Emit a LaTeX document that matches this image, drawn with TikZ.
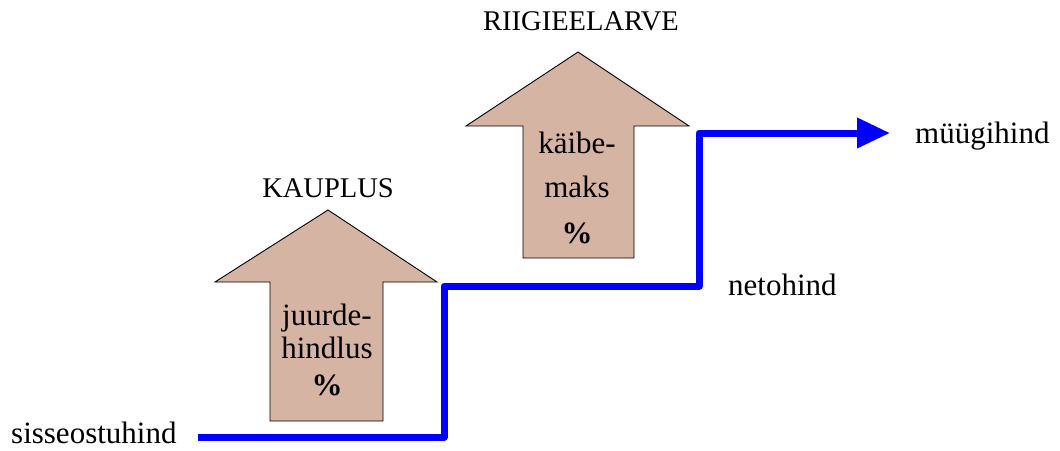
\documentclass[tikz,border=0pt]{standalone}
\usepackage{fontspec}
\setmainfont{Liberation Serif}
\usetikzlibrary{arrows.meta}
\definecolor{arrowfill}{RGB}{214,180,164}
\definecolor{flowblue}{RGB}{0,0,255}
\tikzset{
  lbl/.style={inner sep=0pt, font=\fontsize{31}{34}\selectfont},
  caplbl/.style={inner sep=0pt, font=\fontsize{28.5}{32}\selectfont},
  pct/.style={inner sep=0pt, font=\fontsize{31}{34}\selectfont\bfseries},
  bigarrow/.style={draw=black, line width=0.9pt, fill=arrowfill, line join=miter},
  flow/.style={draw=flowblue, line width=7pt, line join=round,
    -{Triangle[length=33pt,width=29pt]}}
}
\begin{document}
\begin{tikzpicture}[x=1pt,y=-1pt]
\useasboundingbox (0,0) rectangle (1060,450);

% up-pointing block arrows
\path[bigarrow] (270,421) -- (270,282) -- (215,282) -- (328,210) -- (437,282)
  -- (383,282) -- (383,421) -- cycle;
\path[bigarrow] (523,258) -- (523,126) -- (466,126) -- (578,52) -- (689,126)
  -- (634,126) -- (634,258) -- cycle;

% headings above the arrows
\node[caplbl, anchor=base] (kauplus) at (328,197) {KAUPLUS};
\node[caplbl, anchor=base] (riik) at (581,30) {RIIGIEELARVE};

% texts inside the arrows
\node[lbl, anchor=base] (juurde) at (327,325) {juurde-};
\node[lbl, anchor=base] (hindlus) at (327,358) {hindlus};
\node[pct, anchor=base] (pct1) at (327,395) {\%};
\node[lbl, anchor=base] (kaibe) at (577,153) {käibe-};
\node[lbl, anchor=base] (maks) at (577,197) {maks};
\node[pct, anchor=base] (pct2) at (577,243) {\%};

% price labels
\node[lbl, anchor=base west] (sisse) at (11,443) {sisseostuhind};
\node[lbl, anchor=base west] (neto) at (728,295) {netohind};
\node[lbl, anchor=base west] (myyk) at (915,143) {müügihind};

% price staircase
\coordinate (start) at (198,437);
\coordinate (step1) at (444,437);
\coordinate (step2) at (444,286);
\coordinate (step3) at (699,286);
\coordinate (step4) at (699,133);
\coordinate (finish) at (890,133);
\draw[flow] (start) -- (step1) -- (step2) -- (step3) -- (step4) -- (finish);
\end{tikzpicture}
\end{document}
